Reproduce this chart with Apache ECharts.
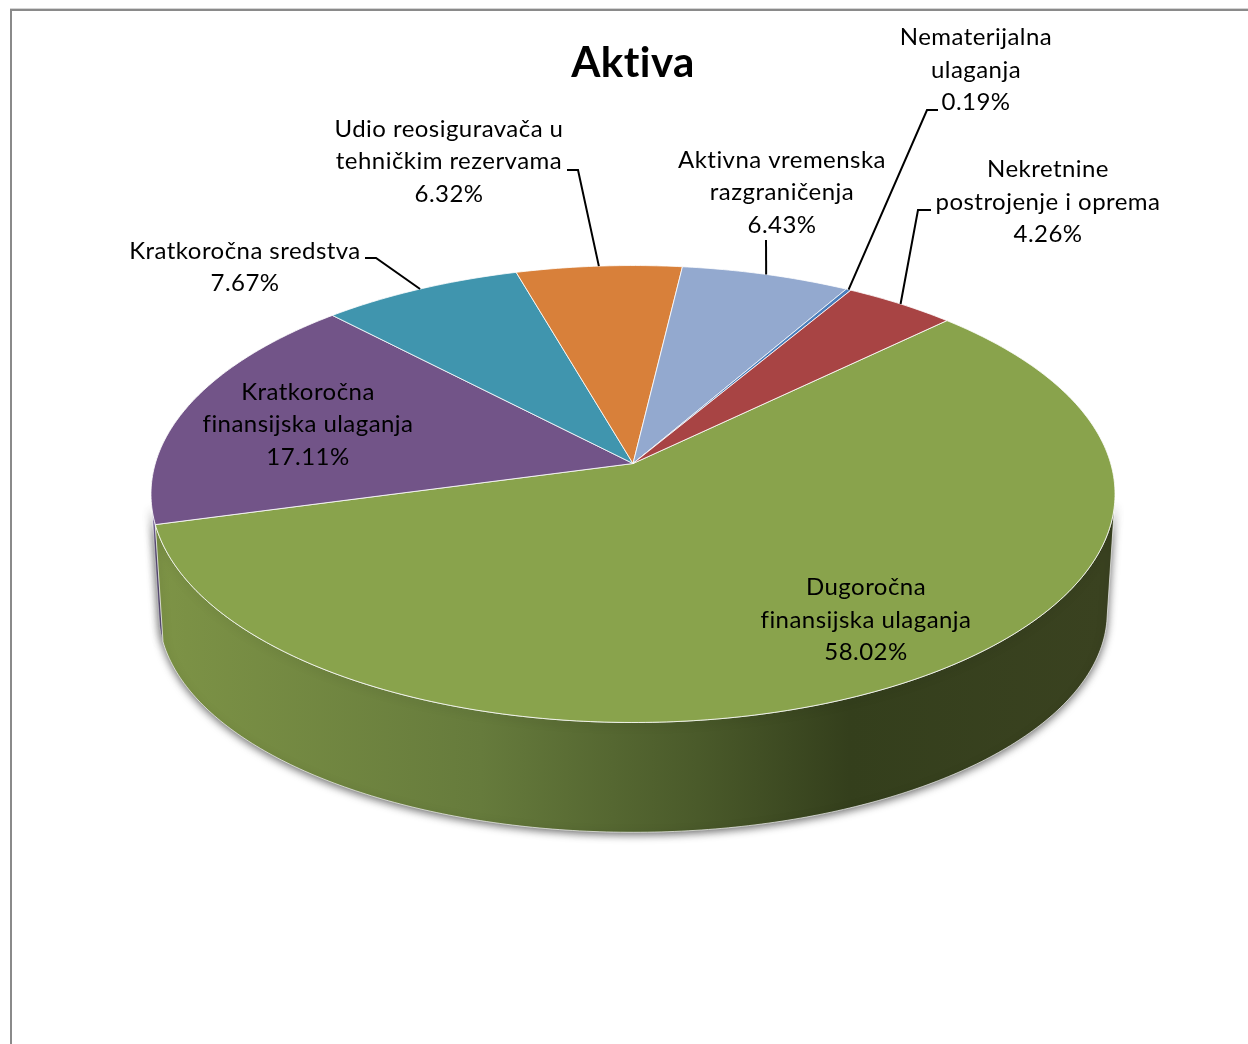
<!DOCTYPE html>
<html><head><meta charset="utf-8">
<style>html,body{margin:0;padding:0;background:#fff}#c{width:1248px;height:1044px}</style>
<script src="https://cdn.jsdelivr.net/npm/echarts@6/dist/echarts.min.js"></script>
</head><body><div id="c"></div>
<script>
// ---- data ----
var titleText = 'Aktiva';
var sliceNames = [
  'Dugoročna\nfinansijska ulaganja',
  'Kratkoročna\nfinansijska ulaganja',
  'Kratkoročna sredstva',
  'Udio reosiguravača u\ntehničkim rezervama',
  'Aktivna vremenska\nrazgraničenja',
  'Nematerijalna\nulaganja',
  'Nekretnine\npostrojenje i oprema'
];
var sliceValues = [58.02, 17.11, 7.67, 6.32, 6.43, 0.19, 4.26];

// ---- styles ----
var sliceColors = ['#89a34c', '#725488', '#4095ae', '#d8803a', '#93a9cf', '#4a7ebb', '#a84444'];
var wallColors = ['green', '#7a68a0', '#33788c', '#ad662e', '#7688a6', '#3b6596', '#873636'];
var FONT = 'Lato, Carlito, "Open Sans", sans-serif';
var LABEL_SIZE = 24, LABEL_LINE = 32.5;

// Spacing as in the reference text: also turns off the font's fi / ti ligatures.
(function () {
  var proto = CanvasRenderingContext2D.prototype, fill = proto.fillText;
  proto.fillText = function () { this.letterSpacing = '0.45px'; return fill.apply(this, arguments); };
})();

// ---- label layout (px) ----
var labelCenters = [[866, 620], [308, 424.5], [245, 267.5], [449, 161.5], [782, 192.5], [976, 70], [1048, 202]];
var leaderElbows = [null, null, [[376, 258], [365, 258]], [[578, 170], [567, 170]], [[766, 240]], [[927, 110], [938, 110]], [[918, 210], [931, 210]]];

// ---- projection of the pie disc (perspective) ----
var PERSP = 0.1335;
var topFace = {x: 633, y: 463.5, a: 477.7, b: 224.4};
var baseFace = {x: 633, y: 583, a: 470, b: 216};
var START_DEG = 45.9;
var WALL_FROM = 100, WALL_TO = 259;   // visible front range of the side wall, degrees clockwise from top
var POLAR_R = 100;

var starts = [], acc = 0;
sliceValues.forEach(function (v) { starts.push(acc); acc += v; });
var rows = sliceValues.map(function (v, i) { return [1, starts[i], v, i]; });

function project(api, pct, face) {
  var o = api.coord([0, 0]), p = api.coord([1, pct]);
  var X = (p[0] - o[0]) / POLAR_R, Y = (o[1] - p[1]) / POLAR_R;
  var w = 1 + PERSP * Y;
  return [face.x + face.a * X / w, face.y - face.b * Y / w];
}
function arc(api, from, to, face) {
  var pts = [], n = Math.max(2, Math.ceil((to - from) / 0.2));
  for (var i = 0; i <= n; i++) pts.push(project(api, from + (to - from) * i / n, face));
  return pts;
}
var pctOfDeg = function (d) { return (d - START_DEG) / 3.6; };
var greenWall = {type: 'linear', x: 160, y: 0, x2: 1104, y2: 0, global: true, colorStops: [
  {offset: 0, color: '#7d9346'}, {offset: 0.34, color: '#667b3c'}, {offset: 0.57, color: '#4a5a2a'},
  {offset: 0.73, color: '#343f1c'}, {offset: 1, color: '#3a4220'}]};

function renderWall(params, api) {
  var s = api.value(1), e = s + api.value(2), i = api.value(3);
  s = Math.max(s, pctOfDeg(WALL_FROM)); e = Math.min(e, pctOfDeg(WALL_TO));
  if (e <= s) return {type: 'group', children: []};
  var pts = arc(api, s, e, topFace).concat(arc(api, s, e, baseFace).reverse());
  return {type: 'polygon', shape: {points: pts}, style: {
    fill: wallColors[i] === 'green' ? greenWall : wallColors[i],
    stroke: 'rgba(255,255,255,0.65)', lineWidth: 1,
    shadowBlur: 9, shadowColor: 'rgba(0,0,0,0.6)', shadowOffsetY: 2
  }};
}
function renderTop(params, api) {
  var s = api.value(1), e = s + api.value(2), i = api.value(3);
  var apex = [topFace.x, topFace.y];
  var pts = [apex].concat(arc(api, s, e, topFace));
  return {type: 'polygon', shape: {points: pts}, style: {
    fill: sliceColors[i], stroke: 'rgba(255,255,255,0.8)', lineWidth: 1, lineJoin: 'round'
  }};
}
function renderLabel(params, api) {
  var s = api.value(1), v = api.value(2), i = api.value(3), kids = [];
  if (leaderElbows[i]) {
    var rim = project(api, s + v / 2, topFace);
    kids.push({type: 'polyline', shape: {points: [rim].concat(leaderElbows[i])},
      style: {stroke: '#000', lineWidth: 2, fill: null}});
  }
  kids.push({type: 'text', x: labelCenters[i][0], y: labelCenters[i][1], style: {
    text: sliceNames[i] + '\n' + v.toFixed(2) + '%',
    font: LABEL_SIZE + 'px ' + FONT, lineHeight: LABEL_LINE, fill: '#000',
    align: 'center', verticalAlign: 'middle'
  }});
  return {type: 'group', children: kids};
}

var chart = echarts.init(document.getElementById('c'), null, {renderer: 'canvas'});
var enc = {radius: 0, angle: 1};
chart.setOption({
  animation: false,
  backgroundColor: '#fff',
  title: {text: titleText, left: 628, top: 37, textAlign: 'center',
    textStyle: {fontFamily: FONT, fontSize: 42, fontWeight: 'bold', color: '#000'}},
  polar: {center: [624, 522], radius: POLAR_R},
  angleAxis: {type: 'value', min: 0, max: 100, startAngle: 90 - START_DEG, clockwise: true, show: false},
  radiusAxis: {type: 'value', min: 0, max: 1, show: false},
  tooltip: {show: false},
  graphic: [
    {type: 'rect', shape: {x: 10, y: 8, width: 1238, height: 1}, style: {fill: '#d4d4d4'}, silent: true},
    {type: 'rect', shape: {x: 10, y: 9, width: 1238, height: 2}, style: {fill: '#8a8a8a'}, silent: true},
    {type: 'rect', shape: {x: 10, y: 9, width: 2, height: 1035}, style: {fill: '#8a8a8a'}, silent: true}
  ],
  series: [
    {type: 'custom', coordinateSystem: 'polar', z: 1, silent: true, renderItem: renderWall, encode: enc, data: rows.slice().reverse()},
    {type: 'custom', coordinateSystem: 'polar', z: 2, silent: true, renderItem: renderTop, encode: enc, data: rows},
    {type: 'custom', coordinateSystem: 'polar', z: 3, silent: true, renderItem: renderLabel, encode: enc, data: rows}
  ]
});
</script></body></html>
